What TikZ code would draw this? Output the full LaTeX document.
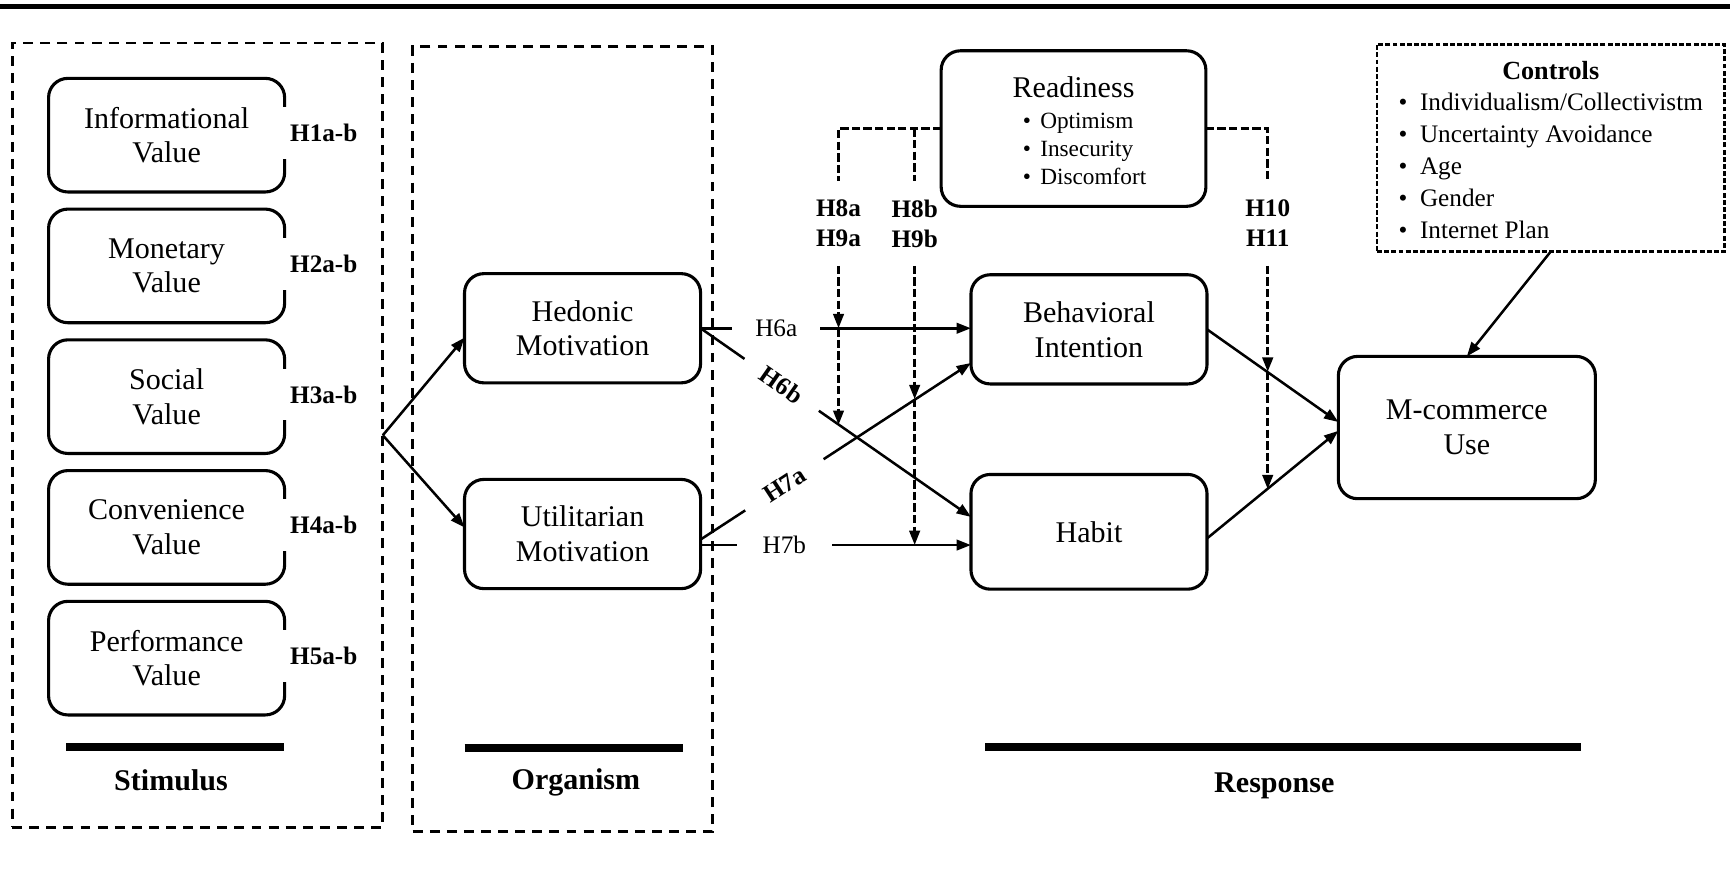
\documentclass[tikz,border=0pt]{standalone}
\usepackage{fontspec}
\setmainfont{Liberation Serif}
\usetikzlibrary{arrows.meta,calc}
\begin{document}
\begin{tikzpicture}[x=0.02cm,y=-0.02cm,inner sep=0pt,outer sep=0pt,line width=1.3pt,
>={Triangle[length=0.26cm,width=0.19cm]},
valbox/.style={draw,rounded corners=0.35cm,line width=1.6pt,minimum width=4.28cm,minimum height=2.06cm,align=center,font=\fontsize{15.5}{18}\selectfont},
motbox/.style={valbox,minimum height=1.98cm},
hyplab/.style={fill=white,anchor=west,inner xsep=0.2cm,minimum height=0.94cm,font=\bfseries\fontsize{13}{15}\selectfont},
arclab/.style={fill=white,inner xsep=0.42cm,inner ysep=2pt,font=\fontsize{13}{15}\selectfont},
boldlab/.style={arclab,font=\bfseries\fontsize{13}{15}\selectfont},
modlab/.style={align=center,minimum height=1.54cm,font=\bfseries\fontsize{13}{15.5}\selectfont},
colframe/.style={draw,line width=1.4pt,dash pattern=on 0.18cm off 0.13cm},
moddash/.style={line width=1.4pt,dash pattern=on 0.15cm off 0.06cm},
secbar/.style={line width=0.13cm},
sectitle/.style={font=\bfseries\fontsize{15.5}{18}\selectfont}]
\useasboundingbox (0,0) rectangle (1568,802);
\draw[line width=0.08cm] (0,6) -- (1568,6);
\draw (179,394.5) node[colframe,minimum width=6.72cm,minimum height=14.22cm] (stimframe) {};
\draw (510,398) node[colframe,minimum width=5.44cm,minimum height=14.24cm] (orgframe) {};
\draw (151,122.5) node[valbox] (info) {Informational\\Value};
\draw (151,241) node[valbox] (mone) {Monetary\\Value};
\draw (151,359.5) node[valbox] (soci) {Social\\Value};
\draw (151,478) node[valbox] (conv) {Convenience\\Value};
\draw (151,596.5) node[valbox] (perf) {Performance\\Value};
\draw ([xshift=-0.1cm,yshift=0.04cm]info.east) node[hyplab] (h1) {H1a-b};
\draw ([xshift=-0.1cm,yshift=0.04cm]mone.east) node[hyplab] (h2) {H2a-b};
\draw ([xshift=-0.1cm,yshift=0.04cm]soci.east) node[hyplab] (h3) {H3a-b};
\draw ([xshift=-0.1cm,yshift=0.04cm]conv.east) node[hyplab] (h4) {H4a-b};
\draw ([xshift=-0.1cm,yshift=0.04cm]perf.east) node[hyplab] (h5) {H5a-b};
\draw (528,297.5) node[motbox] (hed) {Hedonic\\Motivation};
\draw (528,484) node[motbox] (util) {Utilitarian\\Motivation};
\draw (987,298.5) node[motbox] (bi) {Behavioral\\Intention};
\draw (987,482) node[motbox,minimum height=2.08cm] (hab) {Habit};
\draw (1329.5,387.5) node[valbox,minimum width=4.66cm,minimum height=2.58cm] (mcom) {M-commerce\\Use};
\draw (973,116.5) node[valbox,minimum width=4.8cm,minimum height=2.82cm] (rd) {\rule{0pt}{17pt}Readiness\\[-2pt]\hspace{0.4cm}{\fontsize{12}{14.5}\selectfont\begin{tabular}[t]{@{}l@{}}\textbullet\hspace{0.4em}Optimism\\\textbullet\hspace{0.4em}Insecurity\\\textbullet\hspace{0.4em}Discomfort\end{tabular}}};
\draw (1405.5,134) node[draw,line width=1.4pt,dash pattern=on 0.09cm off 0.04cm,minimum width=6.3cm,minimum height=3.76cm,align=center,font=\fontsize{13}{16.4}\selectfont] (ctrl) {{\bfseries\fontsize{13.5}{16.4}\selectfont\rule{0pt}{16pt}Controls}\\\begin{tabular}[t]{@{}l@{}}\textbullet\hspace{0.5em}Individualism/Collectivistm\\\textbullet\hspace{0.5em}Uncertainty Avoidance\\\textbullet\hspace{0.5em}Age\\\textbullet\hspace{0.5em}Gender\\\textbullet\hspace{0.5em}Internet Plan\end{tabular}};
\draw[secbar] (60,677) -- (257,677);
\draw (155,707) node[sectitle] (stim) {Stimulus};
\draw[secbar] (421,678) -- (619,678);
\draw (522,709) node[sectitle] (orgn) {Organism};
\draw[secbar] (893,677) -- (1433,677);
\draw (1155,712) node[sectitle] (resp) {Response};
\draw[->] (stimframe.east) -- ([yshift=-0.17cm]hed.west);
\draw[->] (stimframe.east) -- ([yshift=0.12cm]util.west);
\coordinate (s7a) at ([yshift=-0.1cm]util.east);
\coordinate (s7b) at ([yshift=-0.2cm]util.east);
\coordinate (t6b) at ([yshift=0.27cm]hab.west);
\coordinate (t7a) at ([yshift=-0.61cm]bi.west);
\coordinate (sbm) at (bi.east);
\coordinate (tbm) at ([yshift=0.1cm]mcom.west);
\coordinate (shm) at ([yshift=-0.12cm]hab.east);
\coordinate (thm) at ([yshift=-0.06cm]mcom.west);
\draw[->] (hed.east) -- node[arclab,pos=.28] (l6a) {H6a} (hed.east -| bi.west);
\draw[->] (hed.east) -- node[boldlab,pos=.3,sloped,inner xsep=0.4cm] (l6b) {H6b} (t6b);
\draw[->] (s7a) -- node[boldlab,pos=.31,sloped,inner xsep=0.44cm] (l7a) {H7a} (t7a);
\draw[->] (s7b) -- node[arclab,pos=.31,inner xsep=0.47cm] (l7b) {H7b} (s7b -| hab.west);
\draw[->] (sbm) -- (tbm);
\draw[->] (shm) -- (thm);
\draw[->] (ctrl.south) -- (mcom.north);
\draw (760,202.5) node[modlab] (m89a) {H8a\\H9a};
\draw (829,202.5) node[modlab] (m89b) {H8b\\H9b};
\draw (1149,202.5) node[modlab] (m1011) {H10\\H11};
\draw[moddash] (rd.west) -| (m89a.north);
\draw[moddash] (m89b.north |- rd.west) -- (m89b.north);
\draw[moddash] (rd.east) -| (m1011.north);
\coordinate (x6b) at ($(hed.east)!0.512!(t6b)$);
\coordinate (x7a) at ($(s7a)!0.795!(t7a)$);
\coordinate (xbm) at ($(sbm)!0.458!(tbm)$);
\coordinate (xhm) at ($(shm)!0.458!(thm)$);
\draw[moddash,->] (m89a.south) -- (m89a.south |- hed.east);
\draw[moddash,->] (m89a.south |- hed.east) -- (m89a.south |- x6b);
\draw[moddash,->] (m89b.south) -- (m89b.south |- x7a);
\draw[moddash,->] (m89b.south |- x7a) -- (m89b.south |- s7b);
\draw[moddash,->] (m1011.south) -- (m1011.south |- xbm);
\draw[moddash,->] (m1011.south |- xbm) -- (m1011.south |- xhm);
\end{tikzpicture}
\end{document}
